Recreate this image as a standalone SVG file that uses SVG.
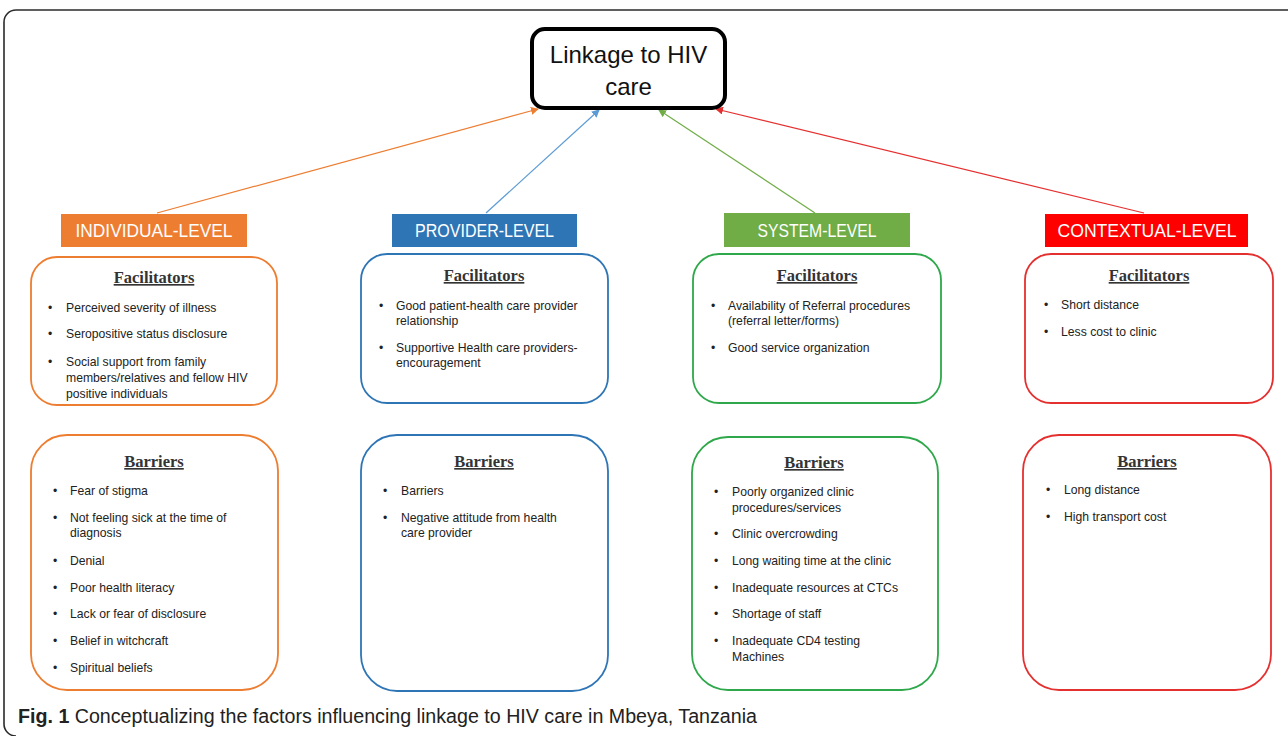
<svg xmlns="http://www.w3.org/2000/svg" width="1288" height="736" viewBox="0 0 1288 736">
<style>
.frame{fill:none;stroke:#2b2b2b;stroke-width:1.6}
.hdr text{font-family:"Liberation Sans",Arial,sans-serif;font-size:19px;fill:#fff;text-anchor:middle}
.box{fill:#fff;stroke-width:1.8}
.ttl{font-family:"Liberation Serif","Times New Roman",serif;font-weight:bold;font-size:16.5px;fill:#333;text-anchor:middle;text-decoration:underline}
.it{font-family:"Liberation Sans",Arial,sans-serif;font-size:12.2px;fill:#222}
.conn line{stroke-width:1.2}
</style>
<defs>
<marker id="aO" markerWidth="8" markerHeight="8" refX="7" refY="4" orient="auto" markerUnits="userSpaceOnUse"><path d="M0,0 L8,4 L0,8 Z" fill="#ED7D31"/></marker>
<marker id="aB" markerWidth="8" markerHeight="8" refX="7" refY="4" orient="auto" markerUnits="userSpaceOnUse"><path d="M0,0 L8,4 L0,8 Z" fill="#5B9BD5"/></marker>
<marker id="aG" markerWidth="8" markerHeight="8" refX="7" refY="4" orient="auto" markerUnits="userSpaceOnUse"><path d="M0,0 L8,4 L0,8 Z" fill="#70AD47"/></marker>
<marker id="aR" markerWidth="8" markerHeight="8" refX="7" refY="4" orient="auto" markerUnits="userSpaceOnUse"><path d="M0,0 L8,4 L0,8 Z" fill="#E53030"/></marker>
</defs>
<rect width="1288" height="736" fill="#fff"/>
<path class="frame" d="M1290,10 H16 A12,12 0 0 0 4,22 V724 A12,12 0 0 0 16,736"/>

<g id="connectors" class="conn">
<line x1="157" y1="213" x2="538" y2="109" stroke="#ED7D31" marker-end="url(#aO)"/>
<line x1="486" y1="213" x2="599" y2="110" stroke="#5B9BD5" marker-end="url(#aB)"/>
<line x1="815" y1="213" x2="659" y2="110" stroke="#70AD47" marker-end="url(#aG)"/>
<line x1="1144" y1="213" x2="716" y2="109" stroke="#E53030" marker-end="url(#aR)"/>
</g>

<g id="linkage">
<rect x="532" y="29" width="193" height="79" rx="13" fill="#fff" stroke="#000" stroke-width="4"/>
<text x="628.5" y="63" font-family="Liberation Sans,Arial,sans-serif" font-size="24" fill="#111" text-anchor="middle">Linkage to HIV</text>
<text x="628.5" y="95" font-family="Liberation Sans,Arial,sans-serif" font-size="24" fill="#111" text-anchor="middle">care</text>
</g>

<g id="individual-level" class="hdr">
<rect x="61" y="214" width="186" height="33" fill="#ED7D31"/>
<text x="154" y="237" textLength="157" lengthAdjust="spacingAndGlyphs">INDIVIDUAL-LEVEL</text>
</g>
<g id="provider-level" class="hdr">
<rect x="392" y="214" width="185" height="33" fill="#2E75B6"/>
<text x="484.5" y="237" textLength="139" lengthAdjust="spacingAndGlyphs">PROVIDER-LEVEL</text>
</g>
<g id="system-level" class="hdr">
<rect x="724" y="213" width="186" height="34" fill="#70AD47"/>
<text x="817" y="237" textLength="119" lengthAdjust="spacingAndGlyphs">SYSTEM-LEVEL</text>
</g>
<g id="contextual-level" class="hdr">
<rect x="1045" y="214" width="203" height="33" fill="#FF0000"/>
<text x="1147" y="237" textLength="179" lengthAdjust="spacingAndGlyphs">CONTEXTUAL-LEVEL</text>
</g>

<g id="individual-facilitators">
<rect class="box" x="31" y="257" width="246" height="148" rx="26" stroke="#ED7D31"/>
<text class="ttl" x="154" y="283">Facilitators</text>
<g class="it">
<text x="48" y="312">•</text><text x="66" y="312">Perceived severity of illness</text>
<text x="48" y="338">•</text><text x="66" y="338">Seropositive status disclosure</text>
<text x="48" y="366">•</text><text x="66" y="366">Social support from family</text>
<text x="66" y="382">members/relatives and fellow HIV</text>
<text x="66" y="398">positive individuals</text>
</g>
</g>

<g id="provider-facilitators">
<rect class="box" x="361" y="254" width="247" height="149" rx="26" stroke="#2E75B6"/>
<text class="ttl" x="484" y="281">Facilitators</text>
<g class="it">
<text x="379" y="310">•</text><text x="396" y="310">Good patient-health care provider</text>
<text x="396" y="325">relationship</text>
<text x="379" y="352">•</text><text x="396" y="352">Supportive Health care providers-</text>
<text x="396" y="367">encouragement</text>
</g>
</g>

<g id="system-facilitators">
<rect class="box" x="693" y="254" width="248" height="149" rx="26" stroke="#2EA84A"/>
<text class="ttl" x="817" y="281">Facilitators</text>
<g class="it">
<text x="711" y="310">•</text><text x="728" y="310">Availability of Referral procedures</text>
<text x="728" y="325">(referral letter/forms)</text>
<text x="711" y="352">•</text><text x="728" y="352">Good service organization</text>
</g>
</g>

<g id="contextual-facilitators">
<rect class="box" x="1025" y="254" width="248" height="149" rx="26" stroke="#E53030"/>
<text class="ttl" x="1149" y="281">Facilitators</text>
<g class="it">
<text x="1044" y="309">•</text><text x="1061" y="309">Short distance</text>
<text x="1044" y="336">•</text><text x="1061" y="336">Less cost to clinic</text>
</g>
</g>

<g id="individual-barriers">
<rect class="box" x="31" y="435" width="247" height="255" rx="36" stroke="#ED7D31"/>
<text class="ttl" x="154" y="467">Barriers</text>
<g class="it">
<text x="53" y="495">•</text><text x="70" y="495">Fear of stigma</text>
<text x="53" y="522">•</text><text x="70" y="522">Not feeling sick at the time of</text>
<text x="70" y="537">diagnosis</text>
<text x="53" y="565">•</text><text x="70" y="565">Denial</text>
<text x="53" y="592">•</text><text x="70" y="592">Poor health literacy</text>
<text x="53" y="618">•</text><text x="70" y="618">Lack or fear of disclosure</text>
<text x="53" y="645">•</text><text x="70" y="645">Belief in witchcraft</text>
<text x="53" y="672">•</text><text x="70" y="672">Spiritual beliefs</text>
</g>
</g>

<g id="provider-barriers">
<rect class="box" x="361" y="435" width="247" height="256" rx="36" stroke="#2E75B6"/>
<text class="ttl" x="484" y="467">Barriers</text>
<g class="it">
<text x="383" y="495">•</text><text x="401" y="495">Barriers</text>
<text x="383" y="522">•</text><text x="401" y="522">Negative attitude from health</text>
<text x="401" y="537">care provider</text>
</g>
</g>

<g id="system-barriers">
<rect class="box" x="692" y="437" width="246" height="253" rx="36" stroke="#2EA84A"/>
<text class="ttl" x="814" y="468">Barriers</text>
<g class="it">
<text x="714" y="496">•</text><text x="732" y="496">Poorly organized clinic</text>
<text x="732" y="512">procedures/services</text>
<text x="714" y="538">•</text><text x="732" y="538">Clinic overcrowding</text>
<text x="714" y="565">•</text><text x="732" y="565">Long waiting time at the clinic</text>
<text x="714" y="592">•</text><text x="732" y="592">Inadequate resources at CTCs</text>
<text x="714" y="618">•</text><text x="732" y="618">Shortage of staff</text>
<text x="714" y="645">•</text><text x="732" y="645">Inadequate CD4 testing</text>
<text x="732" y="661">Machines</text>
</g>
</g>

<g id="contextual-barriers">
<rect class="box" x="1023" y="435" width="248" height="255" rx="36" stroke="#E53030"/>
<text class="ttl" x="1147" y="467">Barriers</text>
<g class="it">
<text x="1046" y="494">•</text><text x="1064" y="494">Long distance</text>
<text x="1046" y="521">•</text><text x="1064" y="521">High transport cost</text>
</g>
</g>

<g id="caption">
<text x="18" y="723" font-family="Liberation Sans,Arial,sans-serif" font-size="20" fill="#222" textLength="739" lengthAdjust="spacingAndGlyphs"><tspan font-weight="bold">Fig. 1</tspan> Conceptualizing the factors influencing linkage to HIV care in Mbeya, Tanzania</text>
</g>
</svg>
